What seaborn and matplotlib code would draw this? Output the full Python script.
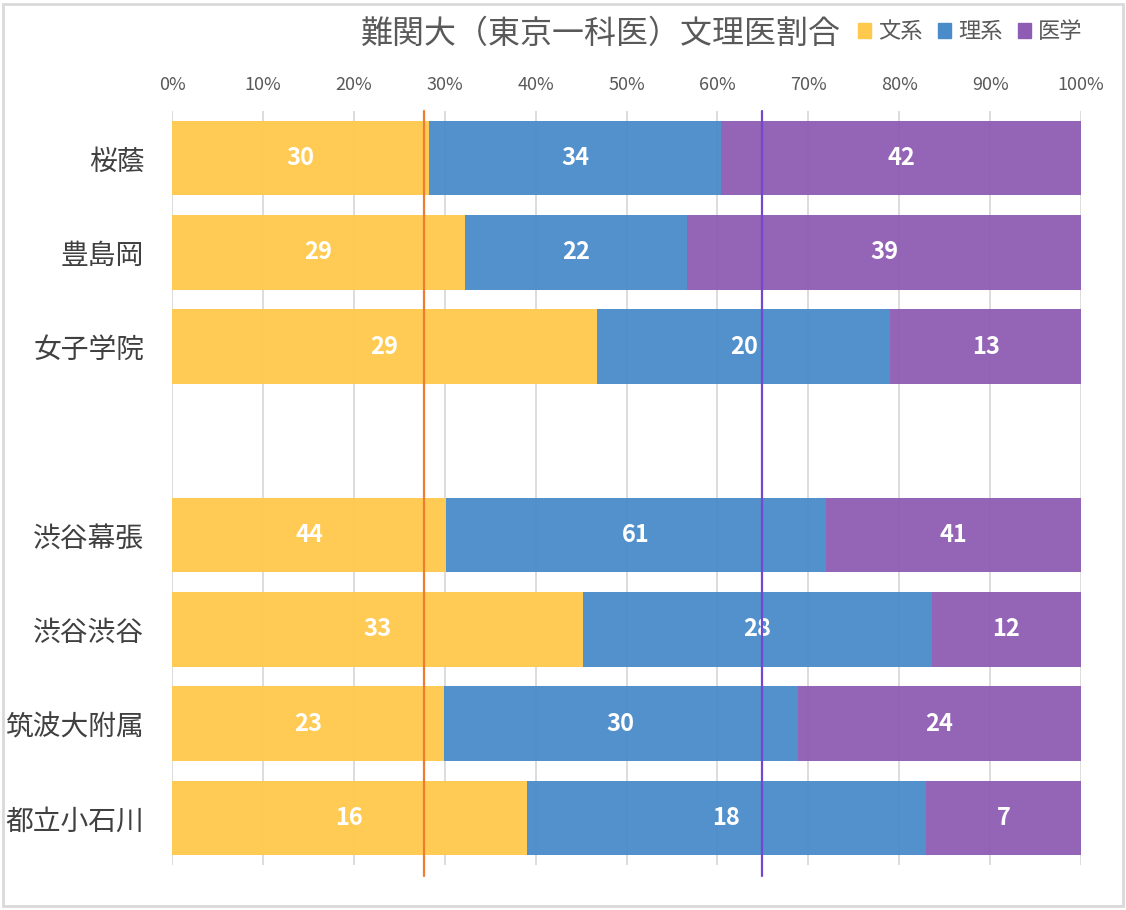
import matplotlib
matplotlib.use("Agg")
import matplotlib.pyplot as plt
import matplotlib.patches as mpatches
import numpy as np
import pandas as pd
import seaborn as sns

schools = ["桜蔭", "豊島岡", "女子学院", "", "渋谷幕張", "渋谷渋谷", "筑波大附属", "都立小石川"]
bunkei = [30, 29, 29, np.nan, 44, 33, 23, 16]
rikei = [34, 22, 20, np.nan, 61, 28, 30, 18]
igaku = [42, 39, 13, np.nan, 41, 12, 24, 7]
series_names = ["文系", "理系", "医学"]
colors = ["#FFC94B", "#4A8BCA", "#8E5CB2"]
ref_lines = [0.277, 0.649]
ref_colors = ["#ED7D31", "#7448CC"]
xticks = [0, 0.1, 0.2, 0.3, 0.4, 0.5, 0.6, 0.7, 0.8, 0.9, 1.0]

sns.set_theme(style="white")
plt.rcParams["font.family"] = ["Noto Sans CJK JP", "DejaVu Sans"]

df = pd.DataFrame({"school": schools, "文系": bunkei, "理系": rikei, "医学": igaku})
totals = df[series_names].sum(axis=1).replace(0, np.nan)
shares = df[series_names].div(totals, axis=0)

fig = plt.figure(figsize=(11.26, 9.10), dpi=100)
ax = fig.add_axes([0.1528, 0.0495, 0.8073, 0.8285])

ypos = np.arange(len(schools))
left = np.zeros(len(schools))
for name, col in zip(series_names, colors):
    w = shares[name].fillna(0).values
    ax.barh(ypos, w, left=left, height=0.79, color=col, alpha=0.95,
            edgecolor="none", zorder=2, label=name)
    for i, (l, ww) in enumerate(zip(left, w)):
        v = df[name].iloc[i]
        if not np.isnan(v):
            ax.text(l + ww / 2, ypos[i], f"{int(v)}", ha="center", va="center",
                    color="white", fontsize=17, fontweight="bold", zorder=3)
    left = left + w

for x, c in zip(ref_lines, ref_colors):
    ax.axvline(x, ymin=-0.015, ymax=1.0, color=c, lw=1.6, zorder=4, clip_on=False)

ax.set_xlim(0, 1)
ax.set_ylim(len(schools) - 0.5, -0.5)
ax.set_xticks(xticks)
ax.set_xticklabels([f"{int(round(t*100))}%" for t in xticks], color="#595959", fontsize=13)
ax.xaxis.tick_top()
ax.tick_params(axis="x", length=0, pad=12)
ax.set_yticks(ypos)
ax.set_yticklabels(schools, fontsize=20, color="#404040")
ax.tick_params(axis="y", length=0, pad=20)
ax.grid(axis="x", color="#D9D9D9", lw=1.3, zorder=0)
ax.set_axisbelow(True)
for s in ax.spines.values():
    s.set_visible(False)

fig.text(0.5335, 0.963, "難関大（東京一科医）文理医割合", ha="center", va="center",
         fontsize=23, color="#595959")
handles = [mpatches.Patch(color=c, label=n) for n, c in zip(series_names, colors)]
fig.legend(handles=handles, loc="center left", bbox_to_anchor=(0.744, 0.965), ncol=3,
           frameon=False, fontsize=16, handlelength=0.6, handleheight=0.6,
           handletextpad=0.3, columnspacing=0.7, labelcolor="#595959")

fig.patches.append(mpatches.Rectangle((0.003, 0.004), 0.994, 0.992, transform=fig.transFigure,
                                      fill=False, edgecolor="#D9D9D9", lw=2))

fig.savefig("out.png", dpi=100)
